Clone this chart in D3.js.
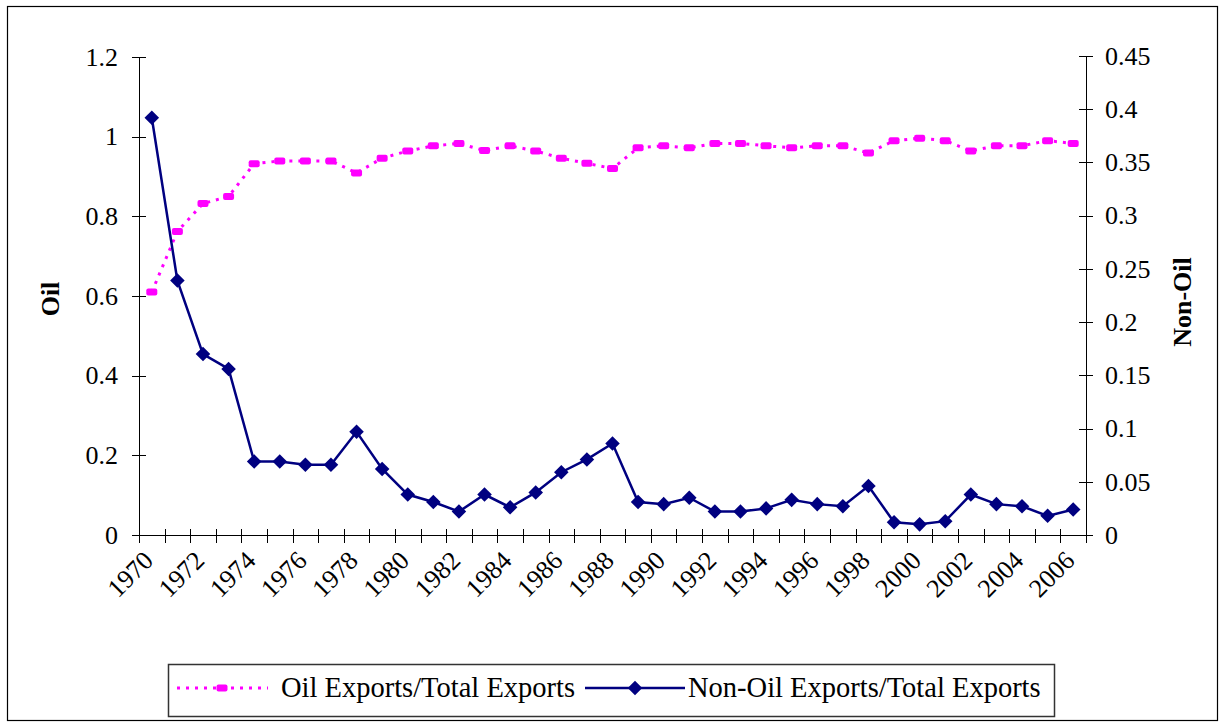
<!DOCTYPE html>
<html>
<head>
<meta charset="utf-8">
<script src="https://cdn.jsdelivr.net/npm/d3@7"></script>
<style>
  body { margin: 0; background: #fff; }
  text { font-family: "Liberation Serif", "Times New Roman", serif; fill: #000; }
  .axis path, .axis line { stroke: #000; shape-rendering: crispEdges; }
</style>
</head>
<body>
<script>
// categories
var years = ["1970","1971","1972","1973","1974","1975","1976","1977","1978","1979",
             "1980","1981","1982","1983","1984","1985","1986","1987","1988","1989",
             "1990","1991","1992","1993","1994","1995","1996","1997","1998","1999",
             "2000","2001","2002","2003","2004","2005","2006"];

// Oil exports / total exports (left axis)
var oil = [0.610, 0.762, 0.832, 0.850, 0.932, 0.939, 0.939, 0.939, 0.909, 0.946,
           0.964, 0.977, 0.983, 0.965, 0.977, 0.964, 0.946, 0.933, 0.920, 0.972,
           0.977, 0.972, 0.983, 0.983, 0.977, 0.972, 0.977, 0.977, 0.959, 0.990,
           0.996, 0.990, 0.964, 0.977, 0.977, 0.990, 0.983];

// Non-oil exports / total exports (right axis)
var nonOil = [0.392, 0.239, 0.170, 0.156, 0.069, 0.069, 0.066, 0.066, 0.097, 0.062,
              0.038, 0.031, 0.022, 0.038, 0.026, 0.040, 0.059, 0.071, 0.086, 0.031,
              0.029, 0.035, 0.022, 0.022, 0.025, 0.033, 0.029, 0.027, 0.046, 0.012,
              0.010, 0.013, 0.038, 0.029, 0.027, 0.018, 0.024];

// tick labels
var leftTicks = [0, 0.2, 0.4, 0.6, 0.8, 1, 1.2];
var rightTicks = [0, 0.05, 0.1, 0.15, 0.2, 0.25, 0.3, 0.35, 0.4, 0.45];
var yearLabels = ["1970","1972","1974","1976","1978","1980","1982","1984","1986",
                  "1988","1990","1992","1994","1996","1998","2000","2002","2004","2006"];

var seriesNames = ["Oil Exports/Total Exports", "Non-Oil Exports/Total Exports"];

//Width and height
var w = 1220;
var h = 723;
var plotLeft = 139, plotRight = 1086, plotTop = 57, plotBottom = 535;

var svg = d3.select("body")
            .append("svg")
            .attr("width", w)
            .attr("height", h);

//outer frame
svg.append("rect")
    .attr("x", 7.5).attr("y", 6.5)
    .attr("width", 1210).attr("height", 714)
    .attr("fill", "none")
    .attr("stroke", "#000")
    .attr("stroke-width", 1.2);

//scales
var xScale = d3.scaleBand()
            .domain(years)
            .range([plotLeft, plotRight]);

var xEdge = d3.scaleLinear()
            .domain([0, years.length])
            .range([plotLeft, plotRight]);

var yLeft = d3.scaleLinear()
           .domain([0, 1.2])
           .range([plotBottom, plotTop]);

var yRight = d3.scaleLinear()
           .domain([0, 0.45])
           .range([plotBottom, plotTop - 1]);

function cx(d, i){ return xScale(years[i]) + xScale.bandwidth()/2; }

//left axis
var gl = svg.append("g")
    .attr("class", "axis")
    .attr("transform", "translate(" + plotLeft + ",0)")
    .call(d3.axisLeft(yLeft).tickValues(leftTicks).tickSizeOuter(0).tickSize(7).tickPadding(14)
          .tickFormat(d3.format("")));
gl.selectAll(".tick line").attr("x2", 7).attr("x1", -7);
gl.selectAll("text").style("font-size", "26px");

//right axis
var gr = svg.append("g")
    .attr("class", "axis")
    .attr("transform", "translate(" + plotRight + ",0)")
    .call(d3.axisRight(yRight).tickValues(rightTicks).tickSizeOuter(0).tickSize(7).tickPadding(12)
          .tickFormat(d3.format("")));
gr.selectAll(".tick line").attr("x1", -7).attr("x2", 7);
gr.selectAll("text").style("font-size", "26px");

//x axis, ticks between categories
var gx = svg.append("g")
    .attr("class", "axis")
    .attr("transform", "translate(0," + plotBottom + ")")
    .call(d3.axisBottom(xEdge).tickValues(d3.range(years.length + 1)).tickSizeOuter(0)
          .tickSize(7).tickFormat(""));
gx.selectAll(".tick line").attr("y1", -6).attr("y2", 8);

//x labels
svg.append("g").selectAll("text")
    .data(yearLabels)
    .enter().append("text")
    .attr("text-anchor", "end")
    .style("font-size", "26px")
    .attr("transform", function(d){
        var x = xScale(d) + xScale.bandwidth()/2 + 3;
        return "translate(" + x + "," + (plotBottom + 27) + ") rotate(-45)";
    })
    .text(function(d){ return d; });

//axis titles
svg.append("text")
    .attr("transform", "translate(59,299) rotate(-90)")
    .attr("text-anchor", "middle")
    .style("font-size", "26px")
    .style("font-weight", "bold")
    .text("Oil");

svg.append("text")
    .attr("transform", "translate(1191,302) rotate(-90)")
    .attr("text-anchor", "middle")
    .style("font-size", "26px")
    .style("font-weight", "bold")
    .text("Non-Oil");

//oil line
var oilLine = d3.line()
    .x(cx)
    .y(function(d){ return yLeft(d); });

svg.append("path")
    .datum(oil)
    .attr("fill", "none")
    .attr("stroke", "#ff00ff")
    .attr("stroke-width", 3)
    .attr("stroke-dasharray", "3,6")
    .attr("d", oilLine);

svg.append("g").selectAll("rect")
    .data(oil)
    .enter().append("rect")
    .attr("x", function(d, i){ return cx(d, i) - 5.5; })
    .attr("y", function(d){ return yLeft(d) - 3.5; })
    .attr("width", 11).attr("height", 7)
    .attr("rx", 2)
    .attr("fill", "#ff00ff");

//non-oil line
var nonOilLine = d3.line()
    .x(cx)
    .y(function(d){ return yRight(d); });

svg.append("path")
    .datum(nonOil)
    .attr("fill", "none")
    .attr("stroke", "#000080")
    .attr("stroke-width", 2.5)
    .attr("d", nonOilLine);

var diamond = d3.symbol().type(d3.symbolDiamond2).size(135);

svg.append("g").selectAll("path")
    .data(nonOil)
    .enter().append("path")
    .attr("transform", function(d, i){ return "translate(" + cx(d, i) + "," + yRight(d) + ")"; })
    .attr("d", diamond)
    .attr("fill", "#000080");

//legend
var lg = svg.append("g");
lg.append("rect")
    .attr("x", 168.5).attr("y", 664.5)
    .attr("width", 886).attr("height", 52)
    .attr("fill", "#fff")
    .attr("stroke", "#333")
    .attr("stroke-width", 1.5);

lg.append("line")
    .attr("x1", 177).attr("x2", 268).attr("y1", 688).attr("y2", 688)
    .attr("stroke", "#ff00ff").attr("stroke-width", 3).attr("stroke-dasharray", "3,6");
lg.append("rect")
    .attr("x", 216.5).attr("y", 684.5).attr("width", 11).attr("height", 7).attr("rx", 2)
    .attr("fill", "#ff00ff");
lg.append("text")
    .attr("x", 281).attr("y", 697)
    .style("font-size", "28.5px")
    .text(seriesNames[0]);

lg.append("line")
    .attr("x1", 585).attr("x2", 685).attr("y1", 688).attr("y2", 688)
    .attr("stroke", "#000080").attr("stroke-width", 2.5);
lg.append("path")
    .attr("transform", "translate(635,688)")
    .attr("d", diamond)
    .attr("fill", "#000080");
lg.append("text")
    .attr("x", 688).attr("y", 697)
    .style("font-size", "28.5px")
    .text(seriesNames[1]);
</script>
</body>
</html>
